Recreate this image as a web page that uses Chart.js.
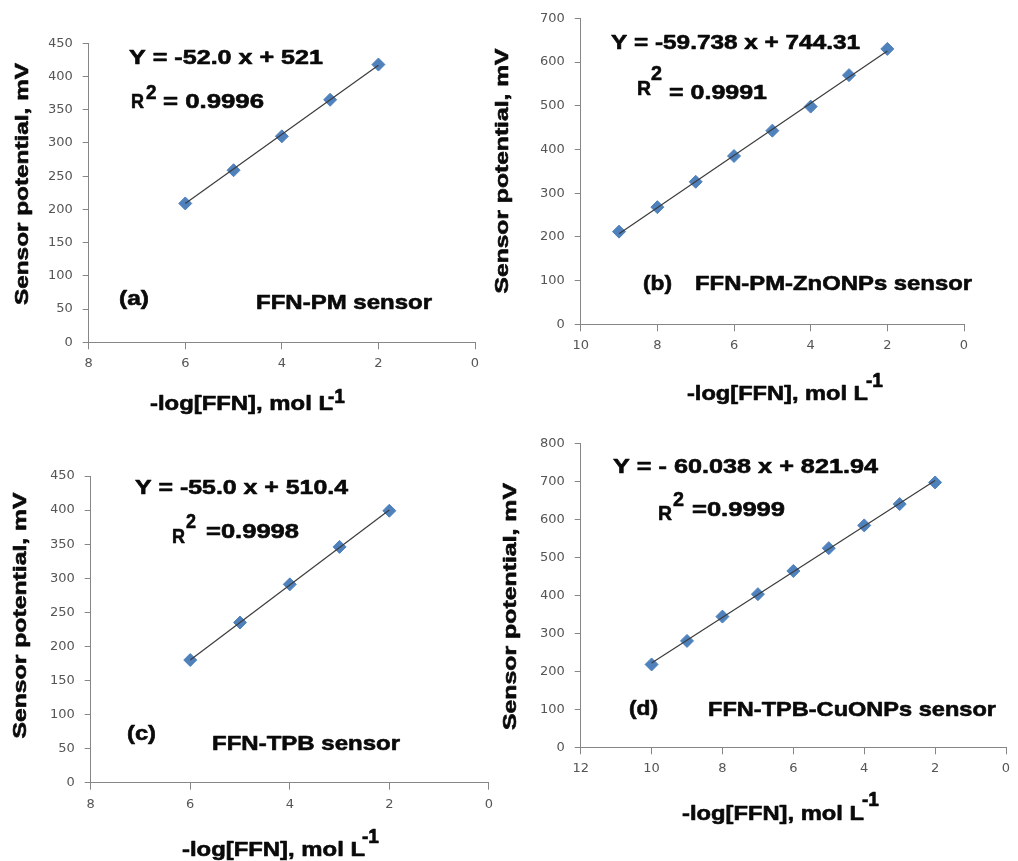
<!DOCTYPE html>
<html><head><meta charset="utf-8">
<script src="https://cdn.jsdelivr.net/npm/chart.js@4.4.1/dist/chart.umd.min.js"></script>
<style>
html,body{margin:0;padding:0;background:#fff;width:1018px;height:861px;overflow:hidden}
canvas{position:absolute}
</style></head><body>
<canvas id="cA" width="500" height="420" style="left:0;top:0"></canvas>
<canvas id="cB" width="528" height="420" style="left:490px;top:0"></canvas>
<canvas id="cC" width="500" height="441" style="left:0;top:420px"></canvas>
<canvas id="cD" width="528" height="441" style="left:490px;top:420px"></canvas>
<script>
// ---- data ----
const xA = [6, 5, 4, 3, 2];
const yA = [209, 259, 310, 365, 418];
const trendXA = [6, 2];
const trendYA = [209, 417];

const xB = [9, 8, 7, 6, 5, 4, 3, 2];
const yB = [212, 268, 326, 385, 443, 498, 570, 630];
const trendXB = [9, 2];
const trendYB = [207, 625];

const xC = [6, 5, 4, 3, 2];
const yC = [180, 235, 291, 346, 399];
const trendXC = [6, 2];
const trendYC = [180, 400];

const xD = [10, 9, 8, 7, 6, 5, 4, 3, 2];
const yD = [218, 280, 344, 403, 464, 524, 584, 640, 697];
const trendXD = [10, 2];
const trendYD = [222, 702];

const yTitle = 'Sensor potential, mV';
const xTitle = '-log[FFN], mol L';
const xTitleSup = '-1';

const YW = 40, XH = 30;
const AXIS = '#868686';

const textPlugin = {
  id: 'texts',
  afterDraw(chart, args, opts) {
    const ctx = chart.ctx;
    for (const t of opts.items) {
      ctx.save();
      ctx.font = 'bold ' + t.size + 'px "Liberation Sans", Arial, sans-serif';
      ctx.fillStyle = '#0a0a0a';
      ctx.strokeStyle = '#0a0a0a';
      ctx.lineWidth = 0.6;
      ctx.lineJoin = 'round';
      const w = ctx.measureText(t.text).width;
      const sx = t.w ? t.w / w : 1;
      ctx.translate(t.x - opts.ox, t.y - opts.oy);
      if (t.rot) ctx.rotate(-Math.PI / 2);
      ctx.scale(sx, 1);
      ctx.textAlign = t.rot ? 'center' : 'left';
      ctx.textBaseline = 'alphabetic';
      ctx.fillText(t.text, 0, 0);
      ctx.strokeText(t.text, 0, 0);
      ctx.restore();
    }
  }
};

function makeChart(id, off, size, box, xs, ys, tx, ty, xMax, yMax, yStep, items) {
  const pts = xs.map((x, i) => ({x: x, y: ys[i]}));
  const tr = tx.map((x, i) => ({x: x, y: ty[i]}));
  new Chart(document.getElementById(id), {
    type: 'scatter',
    data: {
      datasets: [
        {data: tr, showLine: true, borderColor: '#3c3c3c', borderWidth: 1.2, pointRadius: 0, order: 1},
        {data: pts, showLine: false, pointStyle: 'rectRot', pointRadius: 6.5,
         backgroundColor: '#4F81BD', borderColor: '#4F81BD', borderWidth: 1, order: 2}
      ]
    },
    options: {
      responsive: false, animation: false, devicePixelRatio: 1,
      layout: {padding: {
        left: box.l - off.x - YW,
        top: box.t - off.y,
        right: size.w - (box.r - off.x),
        bottom: size.h - (box.b - off.y) - XH
      }},
      plugins: {legend: {display: false}, tooltip: {enabled: false},
        texts: {ox: off.x, oy: off.y, items: items}},
      scales: {
        x: {type: 'linear', reverse: true, min: 0, max: xMax,
          ticks: {stepSize: 2, color: '#555', padding: 7, font: {family: 'DejaVu Sans', size: 13}},
          grid: {drawOnChartArea: false, drawTicks: true, tickLength: 7, color: AXIS},
          border: {display: true, color: AXIS, width: 1},
          afterFit: s => { s.height = XH; }},
        y: {min: 0, max: yMax,
          ticks: {stepSize: yStep, color: '#555', padding: 10, font: {family: 'DejaVu Sans', size: 13}},
          grid: {drawOnChartArea: false, drawTicks: true, tickLength: 6, color: AXIS},
          border: {display: true, color: AXIS, width: 1},
          afterFit: s => { s.width = YW; }}
      }
    },
    plugins: [textPlugin]
  });
}

makeChart('cA', {x: 0, y: 0}, {w: 500, h: 420}, {l: 88.7, t: 43.3, r: 475, b: 342.3},
  xA, yA, trendXA, trendYA, 8, 450, 50, [
  {text: 'Y = -52.0 x + 521', x: 129, y: 64, w: 194, size: 20.5},
  {text: 'R', x: 131, y: 108, w: 13, size: 20.5},
  {text: '2', x: 146, y: 99, w: 10.5, size: 21},
  {text: '= 0.9996', x: 163, y: 108, w: 101, size: 20.5},
  {text: '(a)', x: 119, y: 305, w: 30, size: 20.5},
  {text: 'FFN-PM sensor', x: 256, y: 309, w: 176, size: 20.5},
  {text: xTitle, x: 150, y: 410, w: 183, size: 20.5},
  {text: xTitleSup, x: 328, y: 403, w: 17, size: 20},
  {text: yTitle, x: 28, y: 184, w: 242, size: 19, rot: true}
]);

makeChart('cB', {x: 490, y: 0}, {w: 528, h: 420}, {l: 580.7, t: 18.3, r: 964, b: 324.3},
  xB, yB, trendXB, trendYB, 10, 700, 100, [
  {text: 'Y = -59.738 x + 744.31', x: 611, y: 49, w: 249, size: 20.5},
  {text: 'R', x: 637, y: 95, w: 14, size: 20.5},
  {text: '2', x: 651, y: 80, w: 11, size: 21},
  {text: '= 0.9991', x: 669, y: 99, w: 98, size: 20.5},
  {text: '(b)', x: 643, y: 290, w: 29, size: 20.5},
  {text: 'FFN-PM-ZnONPs sensor', x: 695, y: 290, w: 277, size: 20.5},
  {text: xTitle, x: 687, y: 400, w: 181, size: 20.5},
  {text: xTitleSup, x: 866, y: 387, w: 17, size: 20},
  {text: yTitle, x: 508, y: 171, w: 245, size: 19, rot: true}
]);

makeChart('cC', {x: 0, y: 420}, {w: 500, h: 441}, {l: 90.7, t: 476, r: 492.7, b: 782.7},
  xC, yC, trendXC, trendYC, 8, 450, 50, [
  {text: 'Y = -55.0 x + 510.4', x: 135, y: 494, w: 213, size: 20.5},
  {text: 'R', x: 172, y: 542.7, w: 13, size: 20.5},
  {text: '2', x: 186, y: 528, w: 10, size: 21},
  {text: '=0.9998', x: 206, y: 538, w: 93, size: 20.5},
  {text: '(c)', x: 127, y: 740, w: 29, size: 20.5},
  {text: 'FFN-TPB sensor', x: 212, y: 750, w: 188, size: 20.5},
  {text: xTitle, x: 182, y: 856, w: 183, size: 20.5},
  {text: xTitleSup, x: 362, y: 843, w: 17, size: 20},
  {text: yTitle, x: 26, y: 615.5, w: 246, size: 19, rot: true}
]);

makeChart('cD', {x: 490, y: 420}, {w: 528, h: 441}, {l: 580.7, t: 443.3, r: 1006, b: 747.3},
  xD, yD, trendXD, trendYD, 12, 800, 100, [
  {text: 'Y = - 60.038 x + 821.94', x: 613, y: 473, w: 265, size: 20.5},
  {text: 'R', x: 658, y: 520, w: 14, size: 20.5},
  {text: '2', x: 673, y: 506, w: 11, size: 21},
  {text: '=0.9999', x: 692, y: 516, w: 93, size: 20.5},
  {text: '(d)', x: 629, y: 715, w: 29, size: 20.5},
  {text: 'FFN-TPB-CuONPs sensor', x: 708, y: 716, w: 288, size: 20.5},
  {text: xTitle, x: 682, y: 820, w: 182, size: 20.5},
  {text: xTitleSup, x: 862, y: 806, w: 17, size: 20},
  {text: yTitle, x: 516, y: 606.5, w: 247, size: 19, rot: true}
]);
</script>
</body></html>
